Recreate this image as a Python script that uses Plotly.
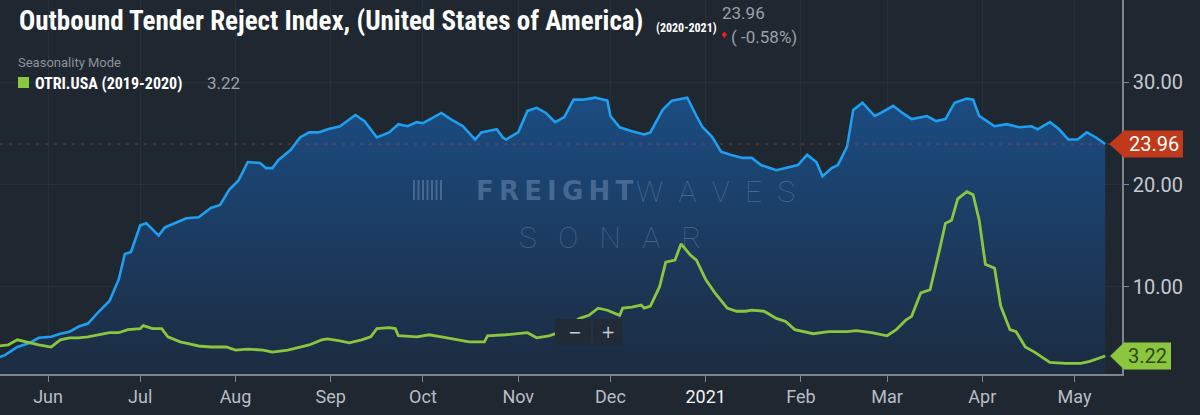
import plotly.graph_objects as go

# OTRI.USA, current season (2020-2021)
otri_dates = [
    "2020-05-16", "2020-05-18", "2020-05-22", "2020-05-26", "2020-05-29", "2020-06-02", "2020-06-05",
    "2020-06-08", "2020-06-11", "2020-06-14", "2020-06-17", "2020-06-21", "2020-06-24", "2020-06-26",
    "2020-06-28", "2020-07-01", "2020-07-03", "2020-07-07", "2020-07-09", "2020-07-14", "2020-07-16",
    "2020-07-20", "2020-07-24", "2020-07-27", "2020-07-30", "2020-08-02", "2020-08-05", "2020-08-09",
    "2020-08-11", "2020-08-13", "2020-08-15", "2020-08-19", "2020-08-22", "2020-08-25", "2020-08-28",
    "2020-08-31", "2020-09-04", "2020-09-09", "2020-09-12", "2020-09-16", "2020-09-20", "2020-09-23",
    "2020-09-26", "2020-09-29", "2020-10-01", "2020-10-07", "2020-10-10", "2020-10-14", "2020-10-18",
    "2020-10-20", "2020-10-25", "2020-10-27", "2020-10-28", "2020-11-01", "2020-11-04", "2020-11-07",
    "2020-11-10", "2020-11-13", "2020-11-16", "2020-11-19", "2020-11-22", "2020-11-26", "2020-11-30",
    "2020-12-01", "2020-12-04", "2020-12-08", "2020-12-12", "2020-12-14", "2020-12-18", "2020-12-21",
    "2020-12-26", "2020-12-29", "2020-12-31", "2021-01-03", "2021-01-06", "2021-01-09", "2021-01-13",
    "2021-01-16", "2021-01-19", "2021-01-24", "2021-01-27", "2021-01-31", "2021-02-03", "2021-02-06",
    "2021-02-08", "2021-02-11", "2021-02-13", "2021-02-16", "2021-02-18", "2021-02-21", "2021-02-25",
    "2021-02-27", "2021-03-03", "2021-03-06", "2021-03-09", "2021-03-14", "2021-03-17", "2021-03-20",
    "2021-03-23", "2021-03-27", "2021-03-29", "2021-03-31", "2021-04-03", "2021-04-05", "2021-04-09",
    "2021-04-13", "2021-04-17", "2021-04-19", "2021-04-23", "2021-04-26", "2021-04-29", "2021-05-02",
    "2021-05-05", "2021-05-08", "2021-05-11",
]
otri_values = [
    3.1, 3.3, 4.1, 4.5, 5.0, 5.1, 5.4,
    5.6, 6.1, 6.4, 7.4, 8.6, 10.7, 13.2,
    13.4, 16.0, 16.2, 15.0, 15.8, 16.5, 16.7,
    16.8, 17.7, 18.0, 19.5, 20.4, 22.2, 22.1,
    21.6, 21.6, 22.4, 23.4, 24.6, 25.1, 25.1,
    25.4, 25.7, 26.8, 26.2, 24.6, 25.1, 25.9,
    25.7, 26.1, 26.0, 27.0, 26.4, 25.7, 24.4,
    25.1, 25.4, 24.6, 24.4, 25.1, 27.2, 27.5,
    27.0, 26.1, 26.6, 28.3, 28.3, 28.5, 28.2,
    26.7, 25.6, 25.2, 24.9, 25.1, 27.3, 28.2,
    28.5, 26.7, 25.6, 24.7, 23.2, 22.9, 22.6,
    22.6, 21.9, 21.4, 21.6, 21.9, 22.9, 22.2,
    20.8, 21.6, 21.9, 23.7, 27.3, 28.0, 26.7,
    27.0, 27.7, 27.0, 26.4, 26.7, 26.2, 26.4,
    28.0, 28.4, 28.3, 26.7, 26.1, 25.7, 25.9,
    25.6, 25.7, 25.4, 26.1, 25.4, 24.4, 24.4,
    25.1, 24.6, 23.96,
]

# OTRI.USA, prior season (2019-2020) plotted on the same calendar
prior_dates = [
    "2020-05-16", "2020-05-19", "2020-05-22", "2020-05-26", "2020-05-29", "2020-06-02", "2020-06-05",
    "2020-06-08", "2020-06-11", "2020-06-14", "2020-06-17", "2020-06-21", "2020-06-24", "2020-06-27",
    "2020-07-01", "2020-07-02", "2020-07-05", "2020-07-08", "2020-07-10", "2020-07-14", "2020-07-17",
    "2020-07-20", "2020-07-24", "2020-07-29", "2020-08-01", "2020-08-05", "2020-08-10", "2020-08-13",
    "2020-08-18", "2020-08-22", "2020-08-25", "2020-08-29", "2020-08-31", "2020-09-04", "2020-09-07",
    "2020-09-11", "2020-09-14", "2020-09-16", "2020-09-20", "2020-09-22", "2020-09-23", "2020-09-29",
    "2020-10-03", "2020-10-07", "2020-10-12", "2020-10-16", "2020-10-21", "2020-10-22", "2020-10-28",
    "2020-11-02", "2020-11-04", "2020-11-07", "2020-11-11", "2020-11-13", "2020-11-21", "2020-11-24",
    "2020-11-27", "2020-11-30", "2020-12-04", "2020-12-05", "2020-12-08", "2020-12-11", "2020-12-12",
    "2020-12-14", "2020-12-17", "2020-12-19", "2020-12-22", "2020-12-24", "2020-12-27", "2020-12-29",
    "2021-01-01", "2021-01-04", "2021-01-05", "2021-01-08", "2021-01-11", "2021-01-14", "2021-01-16",
    "2021-01-20", "2021-01-24", "2021-01-27", "2021-01-30", "2021-02-05", "2021-02-10", "2021-02-16",
    "2021-02-19", "2021-02-24", "2021-03-01", "2021-03-04", "2021-03-07", "2021-03-09", "2021-03-12",
    "2021-03-15", "2021-03-18", "2021-03-20", "2021-03-22", "2021-03-24", "2021-03-27", "2021-03-29",
    "2021-03-31", "2021-04-02", "2021-04-05", "2021-04-07", "2021-04-10", "2021-04-12", "2021-04-15",
    "2021-04-18", "2021-04-23", "2021-04-28", "2021-05-03", "2021-05-06", "2021-05-11",
]
prior_values = [
    4.2, 4.3, 4.8, 4.5, 4.3, 4.1, 4.8,
    5.0, 5.0, 5.1, 5.3, 5.5, 5.5, 5.8,
    5.9, 6.2, 5.9, 5.9, 5.1, 4.6, 4.4,
    4.2, 4.1, 4.1, 3.8, 3.9, 3.8, 3.6,
    3.8, 4.1, 4.3, 4.8, 4.9, 4.7, 4.5,
    4.8, 5.1, 5.9, 6.0, 5.9, 5.2, 5.1,
    5.3, 5.1, 4.8, 4.6, 4.6, 5.2, 5.3,
    5.4, 5.5, 5.0, 5.2, 5.4, 6.9, 7.2,
    7.9, 7.7, 7.2, 7.9, 8.0, 8.2, 7.9,
    8.1, 10.0, 12.4, 12.6, 14.2, 13.1, 12.6,
    10.7, 9.4, 9.0, 7.9, 7.6, 7.6, 7.7,
    7.6, 6.9, 6.6, 5.8, 5.4, 5.6, 5.6,
    5.7, 5.5, 5.2, 5.8, 6.7, 7.1, 9.4,
    9.7, 13.5, 16.2, 16.5, 18.6, 19.3, 19.0,
    16.5, 12.2, 11.8, 8.1, 5.8, 5.6, 4.1,
    3.6, 2.6, 2.5, 2.5, 2.7, 3.22,
]

month_ticks = ["2020-06-01", "2020-07-01", "2020-08-01", "2020-09-01", "2020-10-01", "2020-11-01",
               "2020-12-01", "2021-01-01", "2021-02-01", "2021-03-01", "2021-04-01", "2021-05-01"]
month_labels = ["Jun", "Jul", "Aug", "Sep", "Oct", "Nov", "Dec",
                "<span style='color:#f2f4f6'>2021</span>", "Feb", "Mar", "Apr", "May"]

last_value = 23.96
last_prior = 3.22
change_text = "( -0.58%)"

BG = "#1f2731"
BLUE = "#1e9ff0"
GREEN = "#8cc63f"
RED = "#c1391b"
GREY = "#9aa1a9"
WATERMARK = "rgba(150,180,215,0.35)"
CONDENSED = "Roboto Condensed, Liberation Sans Narrow, Roboto"

fig = go.Figure()

# current season with gradient area
fig.add_trace(go.Scatter(
    x=otri_dates, y=otri_values, mode="lines",
    line=dict(color=BLUE, width=2.6),
    fill="tozeroy",
    fillgradient=dict(type="vertical", colorscale=[[0, "#1c2a3d"], [1, "#1b4c82"]]),
    hoverinfo="skip", showlegend=False,
))

# prior season
fig.add_trace(go.Scatter(
    x=prior_dates, y=prior_values, mode="lines",
    line=dict(color=GREEN, width=2.8),
    hoverinfo="skip", showlegend=False,
))


def px_x(px):
    return px / 1122


def px_y(py):
    return (374 - py) / 374


shapes = [
    # dotted reference line at the latest value
    dict(type="line", xref="paper", x0=0, x1=1, yref="y", y0=last_value, y1=last_value,
         line=dict(color="rgba(200,70,45,0.55)", width=1, dash="3px,6px"), layer="above"),
    # value flags on the right axis
    dict(type="path", xref="paper", yref="y", xsizemode="pixel", ysizemode="pixel",
         xanchor=1.0, yanchor=last_value,
         path="M -13,0 L 2,13.5 L 61,13.5 L 61,-13.5 L 2,-13.5 Z",
         fillcolor=RED, line=dict(width=0), layer="above"),
    dict(type="path", xref="paper", yref="y", xsizemode="pixel", ysizemode="pixel",
         xanchor=1.0, yanchor=last_prior,
         path="M -12,0 L 2,13.5 L 49,13.5 L 49,-13.5 L 2,-13.5 Z",
         fillcolor=GREEN, line=dict(width=0), layer="above"),
    # zoom buttons box
    dict(type="rect", xref="paper", yref="paper",
         x0=px_x(555), x1=px_x(623), y0=px_y(345), y1=px_y(319),
         fillcolor="#212b38", line=dict(width=0), layer="above"),
    dict(type="line", xref="paper", yref="paper",
         x0=px_x(592), x1=px_x(592), y0=px_y(343), y1=px_y(321),
         line=dict(color="#2c3744", width=1), layer="above"),
    # legend square
    dict(type="rect", xref="paper", yref="paper",
         x0=px_x(18), x1=px_x(29), y0=px_y(88), y1=px_y(77),
         fillcolor=GREEN, line=dict(width=0)),
]
# watermark logo bars
for bx in [414, 418.5, 423, 427.5, 432, 436.5, 441]:
    shapes.append(dict(type="line", xref="paper", yref="paper",
                       x0=px_x(bx), x1=px_x(bx), y0=px_y(200), y1=px_y(180),
                       line=dict(color=WATERMARK, width=2)))

annotations = [
    dict(text="<b>Outbound Tender Reject Index, (United States of America)</b>",
         x=px_x(17), y=px_y(21), xanchor="left", yanchor="middle",
         font=dict(family=CONDENSED, size=27, color="#ffffff")),
    dict(text="<b>(2020-2021)</b>", x=px_x(654), y=px_y(28), xanchor="left", yanchor="middle",
         font=dict(family=CONDENSED, size=12, color="#ffffff")),
    # latest value and change, stacked
    dict(text=f"{last_value:.2f}", x=px_x(720), y=px_y(25), xanchor="left", yanchor="bottom",
         font=dict(family="Roboto", size=17, color=GREY)),
    dict(text="♦", x=px_x(718), y=px_y(35), xanchor="left", yanchor="middle",
         font=dict(family="DejaVu Sans", size=9, color="#e0202a")),
    dict(text=change_text, x=px_x(729), y=px_y(25), xanchor="left", yanchor="top",
         font=dict(family="Roboto", size=17, color=GREY)),
    dict(text="Seasonality Mode", x=px_x(16), y=px_y(62), xanchor="left", yanchor="middle",
         font=dict(family="Roboto", size=13, color="#8c939b")),
    dict(text="<b>OTRI.USA (2019-2020)</b>", x=px_x(33), y=px_y(83), xanchor="left", yanchor="middle",
         font=dict(family=CONDENSED, size=16, color="#ffffff")),
    dict(text=f"{last_prior:.2f}", x=px_x(205), y=px_y(83), xanchor="left", yanchor="middle",
         font=dict(family="Roboto", size=17, color=GREY)),
    # right axis flags text
    dict(text=f"{last_value:.2f}", xref="paper", x=1.0, xshift=31.5, yref="y", y=last_value,
         xanchor="center", yanchor="middle", font=dict(family="Roboto", size=20, color="#ffffff")),
    dict(text=f"{last_prior:.2f}", xref="paper", x=1.0, xshift=25.5, yref="y", y=last_prior,
         xanchor="center", yanchor="middle", font=dict(family="Roboto", size=20, color="#2c4a12")),
    # watermark
    dict(text="<b>F\u2009R\u2009E\u2009I\u2009G\u2009H\u2009T</b>", x=px_x(635), y=px_y(191),
         xanchor="right", yanchor="middle",
         font=dict(family="DejaVu Sans", size=26, color=WATERMARK)),
    dict(text="W\u2002A\u2002V\u2002E\u2002S", x=px_x(634), y=px_y(191), xanchor="left", yanchor="middle",
         font=dict(family="Roboto", size=30, weight=100, color=WATERMARK)),
    dict(text="S\u2002\u2009O\u2002\u2009N\u2002\u2009A\u2002\u2009R", x=px_x(610), y=px_y(237),
         xanchor="center", yanchor="middle",
         font=dict(family="Roboto", size=30, weight=100, color=WATERMARK)),
    # zoom buttons
    dict(text="−", x=px_x(574), y=px_y(332), xanchor="center", yanchor="middle",
         font=dict(family="DejaVu Sans", size=16, color="#c8ccd1")),
    dict(text="+", x=px_x(608), y=px_y(332), xanchor="center", yanchor="middle",
         font=dict(family="DejaVu Sans", size=17, color="#c8ccd1")),
]
for a in annotations:
    a.setdefault("xref", "paper")
    a.setdefault("yref", "paper")
    a["showarrow"] = False

fig.update_layout(
    width=1200, height=415,
    margin=dict(l=0, r=78, t=0, b=41),
    paper_bgcolor=BG, plot_bgcolor=BG,
    shapes=shapes, annotations=annotations,
    showlegend=False,
)
fig.update_xaxes(
    range=["2020-05-16 09:00", "2021-05-16 11:00"],
    tickvals=month_ticks, ticktext=month_labels,
    tickfont=dict(family="Roboto", size=18, color="#b9bec5"),
    ticks="outside", ticklen=6, tickcolor="#7d858f",
    showline=True, linecolor="#7d858f", linewidth=1.5,
    showgrid=True, gridcolor="rgba(255,255,255,0.045)",
    zeroline=False,
)
fig.update_yaxes(
    side="right", range=[1.46, 38.05],
    tickvals=[10, 20, 30], tickformat=".2f",
    tickfont=dict(family="Roboto", size=20, color="#c5c9cf"),
    ticks="outside", ticklen=5, tickcolor="#7d858f",
    showline=True, linecolor="#7d858f", linewidth=1.5,
    showgrid=True, gridcolor="rgba(255,255,255,0.045)",
    zeroline=False,
)

fig.write_html("out.html", config={"displayModeBar": False},
               post_script="document.body.style.margin='0';document.body.style.overflow='hidden';")
